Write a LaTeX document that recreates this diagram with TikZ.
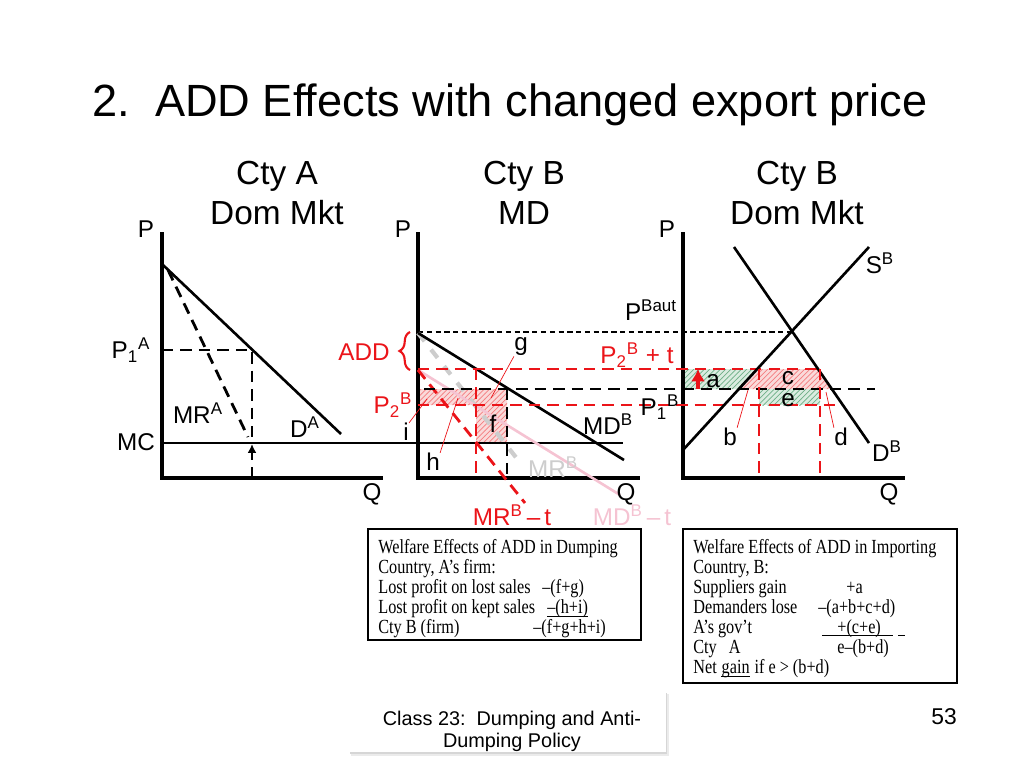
\documentclass[tikz,border=0pt]{standalone}
\usepackage{fontspec}
\setmainfont{Liberation Sans}
\newfontfamily\boxfont[FakeStretch=0.81]{Liberation Serif}
\usetikzlibrary{arrows.meta, patterns, decorations.pathreplacing}

\definecolor{addred}{RGB}{235,20,25}
\definecolor{mdpink}{RGB}{245,195,210}
\definecolor{mrgray}{RGB}{205,205,205}
\definecolor{hatchgreen}{RGB}{110,175,135}
\definecolor{shadegreen}{RGB}{218,236,224}
\definecolor{shadepink}{RGB}{250,218,218}

\tikzset{
  axis/.style={line width=1.8pt},
  curve/.style={line width=1.5pt},
  dashln/.style={line width=1.6pt, dash pattern=on 6.5pt off 4pt},
  reddash/.style={dashln, addred},
  lbl/.style={font=\fontsize{13.8}{16}\selectfont, inner sep=0},
  head/.style={font=\fontsize{19}{22.7}\selectfont, align=center, inner sep=0},
  boxtxt/.style={font=\boxfont\fontsize{11.4}{12}\selectfont, inner sep=0, anchor=base west},
  uline/.style={line width=0.5pt},
  pointer/.style={addred, line width=0.4pt},
  redhatch/.style={pattern=north east lines, pattern color=addred!55, preaction={fill=shadepink}},
  greenhatch/.style={pattern=north east lines, pattern color=hatchgreen, preaction={fill=shadegreen}},
}

\begin{document}
\begin{tikzpicture}[x=0.02cm, y=-0.02cm]
\useasboundingbox (0,0) rectangle (1024,768);

% title and panel headings
\node[font=\fontsize{25.7}{30}\selectfont,
    anchor=base west,
    inner sep=0] (title) at (92,116) {2.\ \ ADD Effects with changed export price};
\node[head] (headA) at (277,193) {Cty A\\Dom Mkt};
\node[head] (headB) at (524,193) {Cty B\\MD};
\node[head] (headC) at (797,193) {Cty B\\Dom Mkt};

% shaded areas
\fill[redhatch] (418,389) -- (507,389) -- (507,443) -- (476,443) -- (476,405) -- (418,405) -- cycle;
\fill[greenhatch] (683,369) -- (758,369) -- (739,389) -- (683,389) -- cycle;
\fill[redhatch] (739,389) -- (758,369) -- (818,369) -- (832,389) -- cycle;
\fill[greenhatch] (759,389) rectangle (820,405);

% autarky price
\draw[line width=1.1pt, dash pattern=on 3pt off 2pt] (418,332) -- (793,332);

% axes
\draw[axis] (162,232) -- (162,478) -- (383,478);
\draw[axis] (418,232) -- (418,478) -- (640,478);
\draw[axis] (683,232) -- (683,478) -- (905,478);
\draw[curve] (162,443) -- (623,443);

% country A
\draw[curve] (163,265) -- (341,434);
\draw[dashln] (168,270) -- (248,437);
\draw[dashln] (162,350) -- (252,350) -- (252,443);
\draw[dashln, -{Latex[length=5pt, width=5pt]}] (252,478) -- (252,444);

% country B, MD
\draw[mrgray, line width=2.4pt, dash pattern=on 6pt off 6pt] (418,333) -- (522,465);
\draw[mdpink, line width=1.5pt] (418,370) -- (620,495);
\draw[curve] (418,333) -- (624,460);
\draw[reddash] (418,370) -- (525,503);
\draw[reddash] (476,369) -- (476,478);
\draw[dashln] (507,389) -- (507,478);
\draw[reddash] (418,369) -- (820,369);
\draw[dashln] (424,389) -- (875,389);
\draw[reddash] (418,405) -- (840,405);
\draw[addred, line width=1.2pt, decorate, decoration={brace, amplitude=6pt}] (410,370) -- (410,332);

% country B, domestic market
\draw[curve] (683,450) -- (869,247);
\draw[curve] (734,247) -- (869,443);
\draw[reddash] (759,369) -- (759,478);
\draw[reddash] (820,369) -- (820,478);
\draw[addred, line width=2pt, -{Latex[length=7pt, width=8pt]}] (698,389) -- (698,369);

% axis labels
\node[lbl] (PA) at (146,229) {P};
\node[lbl] (PB) at (403,229) {P};
\node[lbl] (PC) at (667,229) {P};
\node[lbl] (QA) at (372,494) {Q};
\node[lbl] (QB) at (626,494) {Q};
\node[lbl] (QC) at (889,494) {Q};
\node[lbl] (MC) at (136,442) {MC};

% curve and price labels
\node[lbl] (P1A) at (131,350) {P\textsubscript{1}\textsuperscript{A}};
\node[lbl] (MRA) at (198,413) {MR\textsuperscript{A}};
\node[lbl] (DA) at (305,427) {D\textsuperscript{A}};
\node[lbl, addred] (ADD) at (364,352) {ADD};
\node[lbl, addred] (P2B) at (393,405) {P\textsubscript{2}\textsuperscript{B}};
\node[lbl] (MDB) at (608,424) {MD\textsuperscript{B}};
\node[lbl, mrgray] (MRB) at (553,467) {MR\textsuperscript{B}};
\node[lbl, addred] (MRBt) at (512,515) {MR\textsuperscript{B}\,--\,t};
\node[lbl, mdpink] (MDBt) at (632,515) {MD\textsuperscript{B}\,--\,t};
\node[lbl] (PBaut) at (651,310) {P\textsuperscript{Baut}};
\node[lbl, addred] (P2Bt) at (637,355) {P\textsubscript{2}\textsuperscript{B} + t};
\node[lbl] (P1B) at (660,407) {P\textsubscript{1}\textsuperscript{B}};
\node[lbl] (SB) at (880,263) {S\textsuperscript{B}};
\node[lbl] (DB) at (887,451) {D\textsuperscript{B}};

% area labels
\node[lbl] (ar_g) at (521,347) {g};
\node[lbl] (ar_f) at (493,424) {f};
\node[lbl] (ar_h) at (433,462) {h};
\node[lbl] (ar_i) at (406,432) {i};
\node[lbl] (ar_a) at (713,381) {a};
\node[lbl] (ar_c) at (788,378) {c};
\node[lbl] (ar_e) at (788,400) {e};
\node[lbl] (ar_b) at (730,437) {b};
\node[lbl] (ar_d) at (841,437) {d};

\coordinate (g_pt) at (491,398);
\coordinate (i_pt) at (427,399);
\coordinate (h_pt) at (458,398);
\coordinate (b_pt) at (748,390);
\coordinate (d_pt) at (826,392);
\draw[pointer] (ar_g.south west) -- (g_pt);
\draw[pointer] (ar_i.north east) -- (i_pt);
\draw[pointer] (ar_h.north east) -- (h_pt);
\draw[pointer] (ar_b.north east) -- (b_pt);
\draw[pointer] (ar_d.north west) -- (d_pt);

% welfare boxes
\draw[line width=1.1pt] (368,529) rectangle (641,640);
\node[boxtxt] (wA1) at (378,553) {Welfare Effects of ADD in Dumping};
\node[boxtxt] (wA2) at (378,573) {Country, A’s firm:};
\node[boxtxt] (wA3) at (378,593) {Lost profit on lost sales};
\node[boxtxt] (wA4) at (378,613) {Lost profit on kept sales};
\node[boxtxt] (wA5) at (378,633) {Cty B (firm)};
\node[boxtxt] (vA3) at (542,593) {–(f+g)};
\node[boxtxt] (vA4) at (547,613) {–(h+i)};
\node[boxtxt] (vA5) at (533,633) {–(f+g+h+i)};
\draw[uline] ([yshift=-2.2pt]vA4.base west) -- ([yshift=-2.2pt]vA4.base east);

\draw[line width=1.1pt] (683,529) rectangle (957,683);
\node[boxtxt] (wB1) at (693,553) {Welfare Effects of ADD in Importing};
\node[boxtxt] (wB2) at (693,573) {Country, B:};
\node[boxtxt] (wB3) at (693,593) {Suppliers gain};
\node[boxtxt] (wB4) at (693,613) {Demanders lose};
\node[boxtxt] (wB5) at (693,633) {A’s gov’t};
\node[boxtxt] (wB6) at (693,653) {Cty\ \ \ A};
\node[boxtxt] (wB7) at (693,673) {Net};
\node[boxtxt] (gainw) at ([xshift=2.4pt]wB7.base east) {gain};
\node[boxtxt] (wB7r) at ([xshift=2.4pt]gainw.base east) {if e > (b+d)};
\draw[uline] ([yshift=-2.2pt]gainw.base west) -- ([yshift=-2.2pt]gainw.base east);
\node[boxtxt] (vB3) at (846,593) {+a};
\node[boxtxt] (vB4) at (818,613) {–(a+b+c+d)};
\node[boxtxt] (vB5) at (837,633) {+(c+e)};
\node[boxtxt] (vB6) at (837,653) {e–(b+d)};
\coordinate (ulB5a) at (822,635.5);
\coordinate (ulB5b) at (893,635.5);
\coordinate (ulB5c) at (898,635.5);
\coordinate (ulB5d) at (905,635.5);
\draw[uline] (ulB5a) -- (ulB5b) (ulB5c) -- (ulB5d);

% footer
\fill[black!8] (351,694) rectangle (669,756);
\fill[black!16] (350,693) rectangle (667,754);
\fill[white] (349,692) rectangle (666,752);
\node[font=\fontsize{11.3}{12.6}\selectfont,
    align=center,
    inner sep=0] (footer) at (512,731) {Class 23:\ \ Dumping and Anti-\\Dumping Policy};
\node[font=\fontsize{13}{15}\selectfont, inner sep=0] (pagenum) at (944,717) {53};

\end{tikzpicture}
\end{document}
